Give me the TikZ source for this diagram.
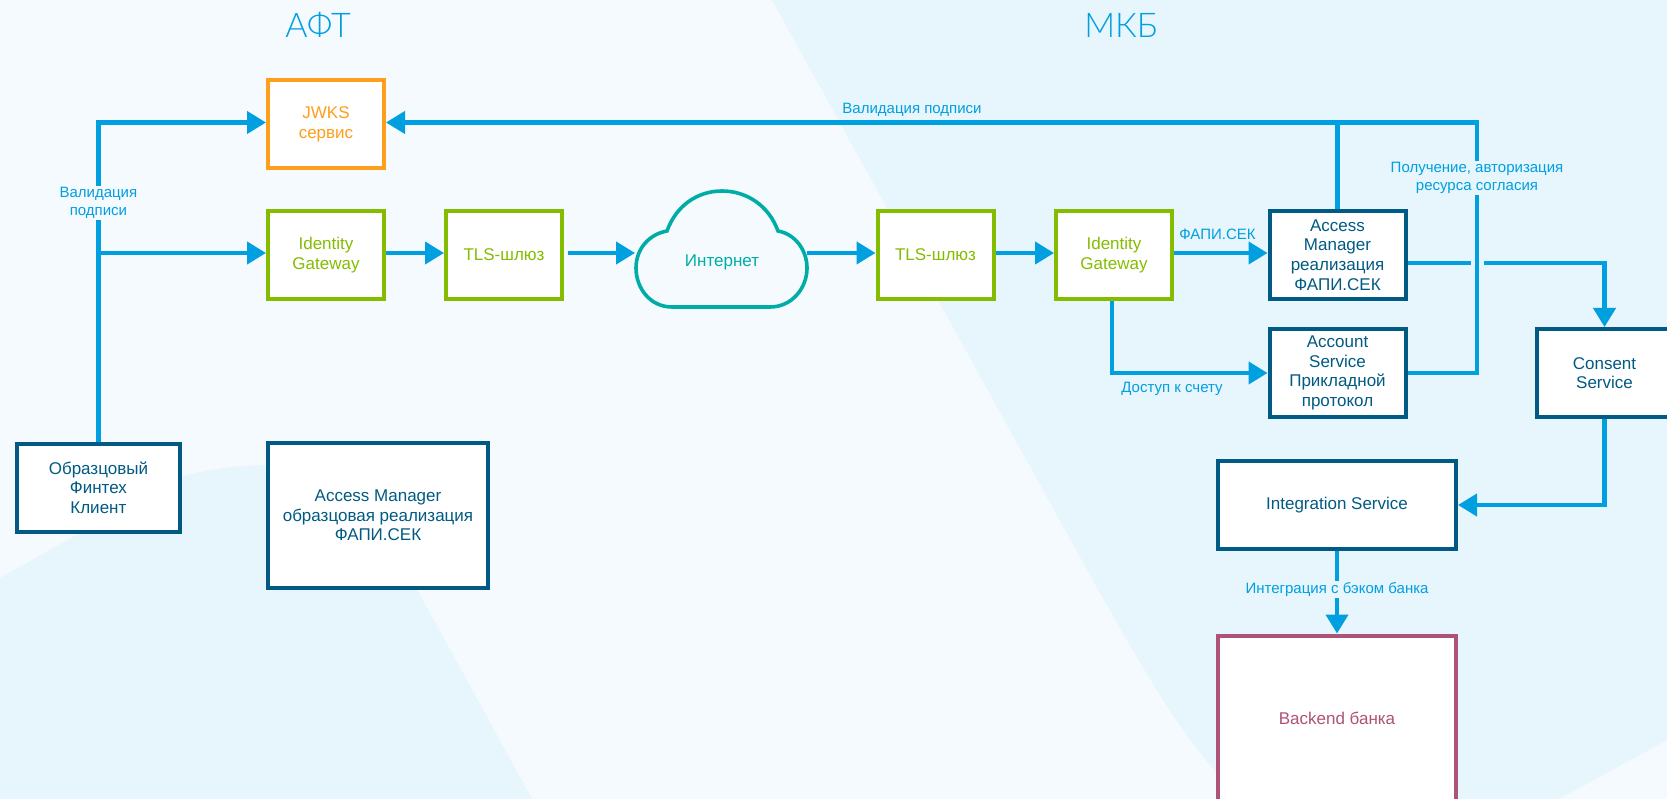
\documentclass[tikz,border=0pt]{standalone}
\usepackage{fontspec}
\setmainfont{Liberation Sans}
\newfontfamily\titlefont{Lato Light}
\usetikzlibrary{arrows.meta, positioning}
\definecolor{bgpale}{HTML}{F5FAFE}
\definecolor{bgblue}{HTML}{E7F5FC}
\definecolor{wireblue}{HTML}{009FDF}
\definecolor{deepblue}{HTML}{005A83}
\definecolor{leaf}{HTML}{84BD00}
\definecolor{amber}{HTML}{FF9E1B}
\definecolor{teal}{HTML}{00ADA6}
\definecolor{berry}{HTML}{AF5278}

\begin{document}
\begin{tikzpicture}[
x=1pt, y=-1pt, on grid,
every node/.style = {font=\fontsize{17}{19.7}\selectfont, align=center, inner sep=0pt},
box/.style   = {draw=#1, text=#1, fill=white, line width=4pt, minimum width=116pt, minimum height=88pt},
wire/.style  = {draw=wireblue, line width=4.2pt},
link/.style  = {wire, -{Triangle[length=19pt,width=22pt]}},
lbl/.style   = {text=wireblue, font=\fontsize{15}{18}\selectfont, fill=#1, inner sep=1pt},
lbl/.default = bgblue,
head/.style  = {text=wireblue, font=\titlefont\fontsize{34}{34}\selectfont},
sx+/.style = {xshift=4pt},
sy+/.style = {yshift=2pt},
sy-/.style = {yshift=-8pt},
                    ]
\useasboundingbox (0,0) rectangle (1667,799);
\fill[bgpale] (0,0) rectangle (1667,799);
% backgrounds
\fill[bgblue] (772,0) -- (1100,593) .. controls (1154,687) and (1180,735) .. (1240,799)
    -- (1559,799) -- (1667,740) -- (1667,0) -- cycle;
\fill[bgblue] (0,578) -- (180,477) .. controls (260,455) and (340,465) .. (368,500)
    -- (532,799) -- (0,799) -- cycle;
%
\node[head] (aft) at (318,25) {АФТ};
\node[head] (mkb) at (1121,25) {МКБ};
%
\node[box=amber] (jwks) at (326,124.5) {JWKS\\сервис};
\node[box=leaf]  (idA)  [below=130.5pt of jwks] {Identity\\Gateway};
\node[box=leaf]  (tlsA) [right=178pt of idA] {TLS-шлюз};
\node[box=leaf]  (tlsB) [right=431.5pt of tlsA] {TLS-шлюз};
\node[box=leaf]  (idB)  [right=178.5pt of tlsB] {Identity\\Gateway};
\node[box=deepblue, minimum width=136pt] (access)  [right=223.5pt of idB] {Access\\Manager\\реализация\\ФАПИ.СЕК};
\node[box=deepblue, minimum width=136pt] (account) [below=118pt of access] {Account\\Service\\Прикладной\\протокол};
\node[box=deepblue, minimum width=136pt] (consent) [right=267pt of account] {Consent\\Service};
\node[box=deepblue, minimum width=238pt] (integ)   at (1337,505) {Integration Service};
\node[box=berry, minimum width=238pt, minimum height=166pt] (bank) [below=213.5pt of integ] {Backend банка};
\node[box=deepblue, minimum width=163pt] (client)  at (98.4,487.5) {Образцовый\\Финтех\\Клиент};
\node[box=deepblue, minimum width=220pt, minimum height=145pt] (amref) at (378,515.5) {Access Manager\\образцовая реализация\\ФАПИ.СЕК};
% cloud
\draw[teal, line width=3.6pt, fill=bgpale] (672,307) .. controls (650,307) and (636,288) .. (636,268)
    .. controls (636,248) and (650,234) .. (667,231) .. controls (676,206) and (697,191) .. (722,191)
    .. controls (747,191) and (769,206) .. (778,231) .. controls (795,234) and (807,250) .. (807,268)
    .. controls (807,288) and (792,307) .. (770,307) -- cycle;
\node[text=teal] (cloud) at (722,262) {Интернет};
\coordinate (cloudin)  at (635,253);
\coordinate (cloudout) at (807,253);
\coordinate (turn) at (1477,122.5);
\coordinate (hopL) at (1471,263);
\coordinate (hopR) at (1484,263);
\coordinate (idBfoot) at (1112,301);
%
\draw[link] (client.north) |- ([sy+] jwks.west);
\draw[link] (client.north) |- ([sy+] idA.west);
\draw[link] ([sy+] idA.east) -- ([sy+] tlsA.west);
\draw[link] ([sx+,sy+] tlsA.east) -- (cloudin);
\draw[link] (cloudout) -- ([sy+] tlsB.west);
\draw[link] ([sy+] tlsB.east) -- ([sy+] idB.west);
\draw[link] ([sy+] idB.east) -- ([sy+] access.west);
\draw[link] (idBfoot) |- (account.west);
\draw[link] (access.north) |- ([sy+] jwks.east);
\draw[wire] (account.east) -| (turn) -- (access.north |- turn);
\draw[wire] ([sy-] access.east) -- (hopL);
\draw[link] (hopR) -| (consent.north);
\draw[link] (consent.south) |- (integ.east);
\draw[link] (integ.south) -- (bank.north);
%
\node[lbl=bgpale] (sigA) at (98.4,203) {Валидация\\подписи};
\node[lbl=none]   (sigB) at (912,109.5) {Валидация подписи};
\node[lbl=none]   (fapi) at (1217.5,234) {ФАПИ.СЕК};
\node[lbl=none]   (acct) at (1172,389) {Доступ к счету};
\node[lbl]        (auth) at (1477,178) {Получение, авторизация\\ресурса согласия};
\node[lbl]        (back) at (1337,589.5) {Интеграция с бэком банка};
\end{tikzpicture}
\end{document}
